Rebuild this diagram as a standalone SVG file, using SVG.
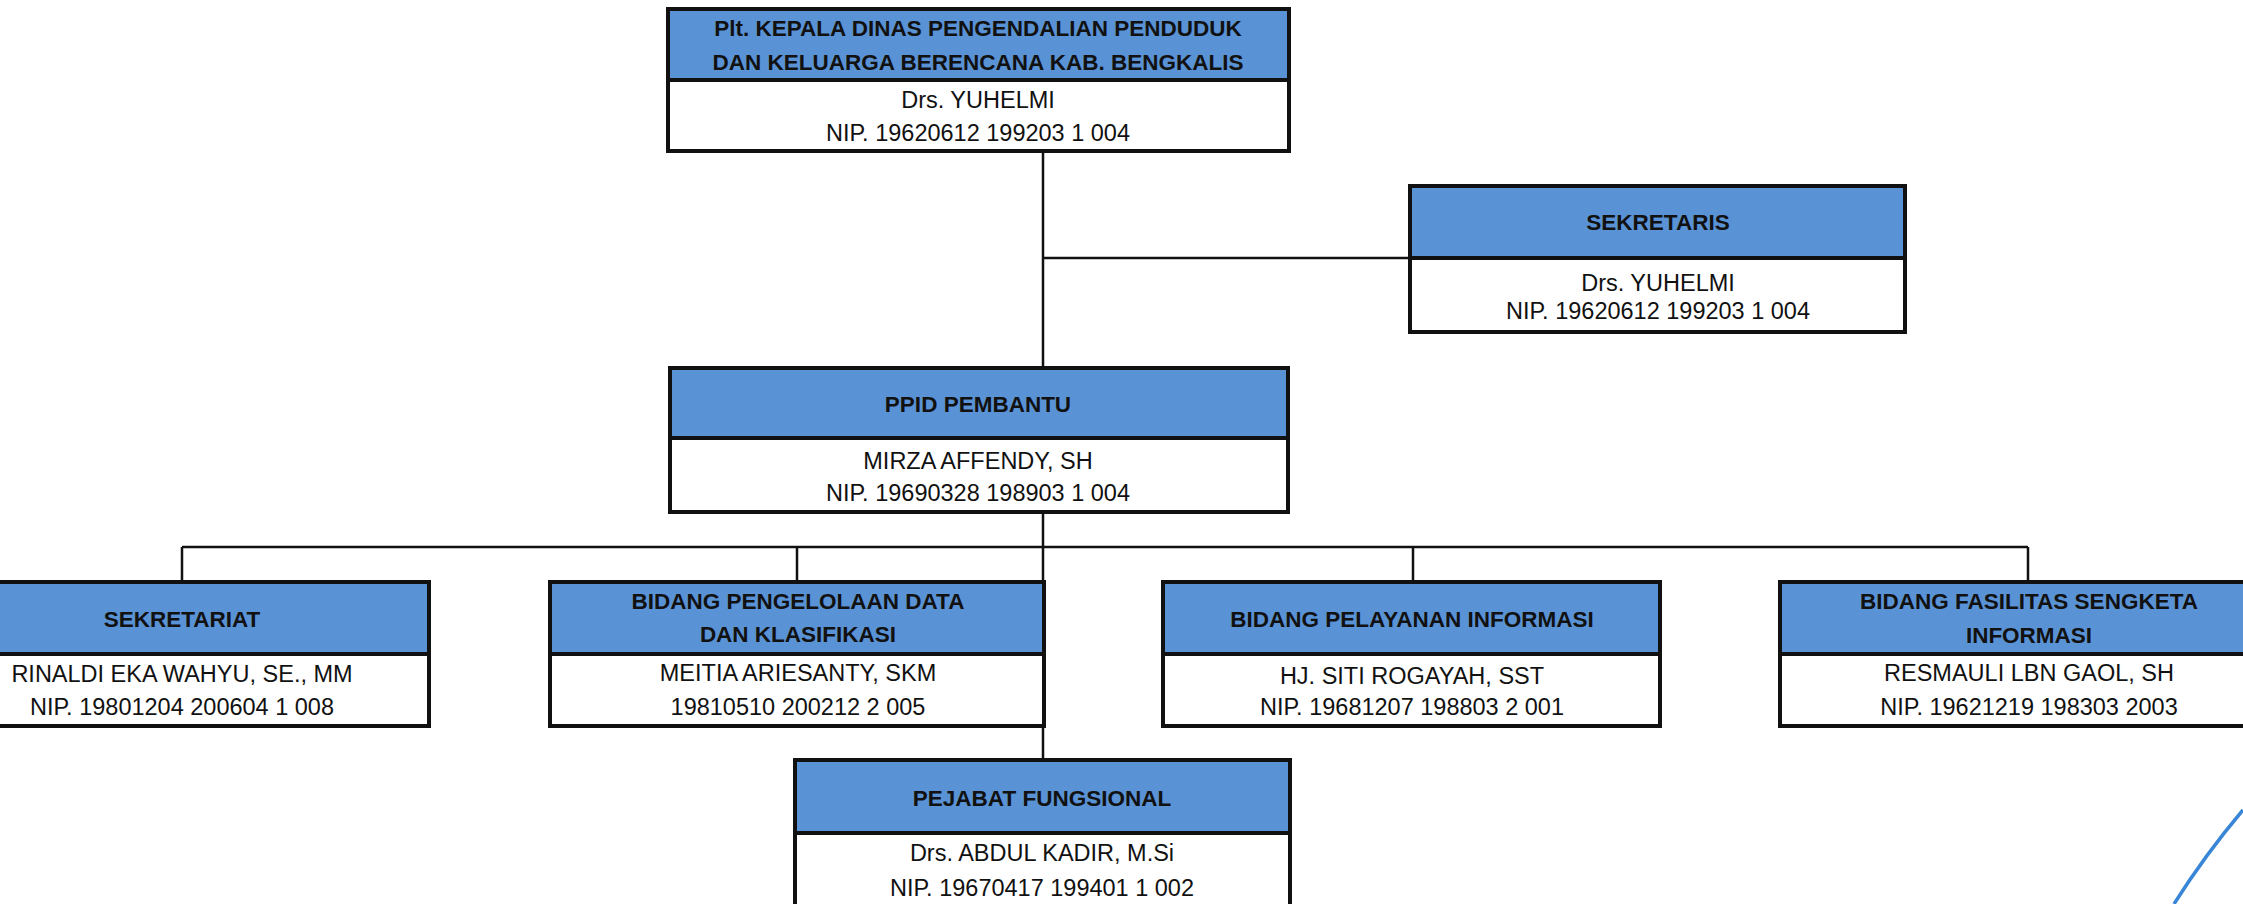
<svg xmlns="http://www.w3.org/2000/svg" width="2243" height="904" viewBox="0 0 2243 904">
<style>
.hd{fill:#5A93D5;stroke:#111;stroke-width:4}
.bd{fill:#fff;stroke:#111;stroke-width:4}
.t{font-family:"Liberation Sans",Arial,sans-serif;font-size:23.5px;fill:#111;text-anchor:middle;dominant-baseline:central}
.b{font-weight:bold;font-size:22.5px}
.c{stroke:#111;stroke-width:2.5;fill:none}
</style>
<rect width="2243" height="904" fill="#fff"/>
<g id="connectors">
<path class="c" d="M1043,151V368M1043,258H1410M1043,512V760M182,547H2028M182,547V582M797,547V582M1413,547V582M2028,547V582"/>
</g>
<g id="kepala">
<rect class="bd" x="668" y="9" width="621" height="142"/>
<rect class="hd" x="668" y="9" width="621" height="71"/>
<text class="t b" x="978" y="28">Plt. KEPALA DINAS PENGENDALIAN PENDUDUK</text>
<text class="t b" x="978" y="62">DAN KELUARGA BERENCANA KAB. BENGKALIS</text>
<text class="t" x="978" y="100">Drs. YUHELMI</text>
<text class="t" x="978" y="133">NIP. 19620612 199203 1 004</text>
</g>
<g id="sekretaris">
<rect class="bd" x="1410" y="186" width="495" height="146"/>
<rect class="hd" x="1410" y="186" width="495" height="72"/>
<text class="t b" x="1658" y="222">SEKRETARIS</text>
<text class="t" x="1658" y="283">Drs. YUHELMI</text>
<text class="t" x="1658" y="311">NIP. 19620612 199203 1 004</text>
</g>
<g id="ppid">
<rect class="bd" x="670" y="368" width="618" height="144"/>
<rect class="hd" x="670" y="368" width="618" height="70"/>
<text class="t b" x="978" y="404">PPID PEMBANTU</text>
<text class="t" x="978" y="461">MIRZA AFFENDY, SH</text>
<text class="t" x="978" y="493">NIP. 19690328 198903 1 004</text>
</g>
<g id="sekretariat">
<rect class="bd" x="-65" y="582" width="494" height="144"/>
<rect class="hd" x="-65" y="582" width="494" height="72"/>
<text class="t b" x="182" y="619">SEKRETARIAT</text>
<text class="t" x="182" y="674">RINALDI EKA WAHYU, SE., MM</text>
<text class="t" x="182" y="707">NIP. 19801204 200604 1 008</text>
</g>
<g id="pengelolaan">
<rect class="bd" x="550" y="582" width="494" height="144"/>
<rect class="hd" x="550" y="582" width="494" height="72"/>
<text class="t b" x="798" y="601">BIDANG PENGELOLAAN DATA</text>
<text class="t b" x="798" y="634">DAN KLASIFIKASI</text>
<text class="t" x="798" y="673">MEITIA ARIESANTY, SKM</text>
<text class="t" x="798" y="707">19810510 200212 2 005</text>
</g>
<g id="pelayanan">
<rect class="bd" x="1163" y="582" width="497" height="144"/>
<rect class="hd" x="1163" y="582" width="497" height="72"/>
<text class="t b" x="1412" y="619">BIDANG PELAYANAN INFORMASI</text>
<text class="t" x="1412" y="676">HJ. SITI ROGAYAH, SST</text>
<text class="t" x="1412" y="707">NIP. 19681207 198803 2 001</text>
</g>
<g id="fasilitas">
<rect class="bd" x="1780" y="582" width="500" height="144"/>
<rect class="hd" x="1780" y="582" width="500" height="72"/>
<text class="t b" x="2029" y="601">BIDANG FASILITAS SENGKETA</text>
<text class="t b" x="2029" y="635">INFORMASI</text>
<text class="t" x="2029" y="673">RESMAULI LBN GAOL, SH</text>
<text class="t" x="2029" y="707">NIP. 19621219 198303 2003</text>
</g>
<g id="pejabat">
<rect class="bd" x="795" y="760" width="495" height="160"/>
<rect class="hd" x="795" y="760" width="495" height="73"/>
<text class="t b" x="1042" y="798">PEJABAT FUNGSIONAL</text>
<text class="t" x="1042" y="853">Drs. ABDUL KADIR, M.Si</text>
<text class="t" x="1042" y="888">NIP. 19670417 199401 1 002</text>
</g>
<path d="M2174,904Q2205,855 2243,810" fill="none" stroke="#3A86D6" stroke-width="3.5"/>
</svg>
